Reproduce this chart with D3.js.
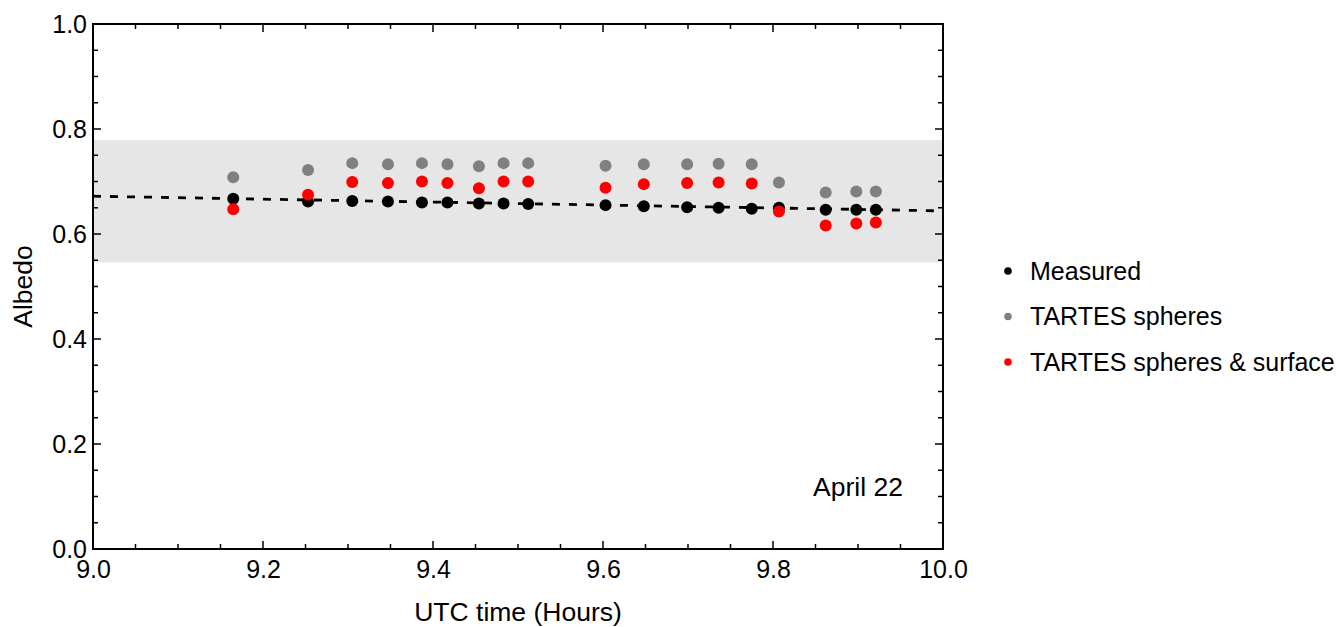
<!DOCTYPE html>
<html>
<head>
<meta charset="utf-8">
<script src="https://cdn.jsdelivr.net/npm/d3@7"></script>
<style>
  body { margin: 0; background: #fff; }
  svg text { font-family: "Liberation Sans", Arial, sans-serif; fill: #000; }
</style>
</head>
<body>
<svg width="1336" height="627"></svg>
<script>
// UTC time (hours) of each measurement
const times = [9.165, 9.253, 9.305, 9.347, 9.387, 9.417, 9.454, 9.483, 9.512,
  9.603, 9.648, 9.699, 9.736, 9.775, 9.807, 9.862, 9.898, 9.921];
const measured = [0.667, 0.662, 0.663, 0.662, 0.660, 0.660, 0.658, 0.658, 0.657,
  0.655, 0.653, 0.651, 0.650, 0.648, 0.650, 0.646, 0.646, 0.646];
const spheres = [0.708, 0.722, 0.735, 0.733, 0.735, 0.733, 0.729, 0.735, 0.735,
  0.730, 0.733, 0.733, 0.734, 0.733, 0.698, 0.679, 0.681, 0.681];
const spheresSurface = [0.647, 0.675, 0.699, 0.697, 0.700, 0.697, 0.687, 0.700, 0.700,
  0.688, 0.695, 0.697, 0.698, 0.696, 0.643, 0.616, 0.620, 0.622];
// fitted trend at the two ends of the axis
const trend = [[9.0, 0.672], [10.0, 0.644]];
// grey uncertainty band
const band = [0.546, 0.779];
const xTicks = [9.0, 9.2, 9.4, 9.6, 9.8, 10.0];
const yTicks = [0.0, 0.2, 0.4, 0.6, 0.8, 1.0];
const seriesNames = ["Measured", "TARTES spheres", "TARTES spheres & surface"];
const seriesColors = ["#000000", "#808080", "#ff0000"];

const margin = { top: 24, right: 393, bottom: 78, left: 93 };
const width = 1336, height = 627;
const svg = d3.select("svg");

const x = d3.scaleLinear().domain([9, 10]).range([margin.left, width - margin.right]);
const y = d3.scaleLinear().domain([0, 1]).range([height - margin.bottom, margin.top]);

// band
svg.append("rect")
  .attr("x", x(9)).attr("width", x(10) - x(9))
  .attr("y", y(band[1])).attr("height", y(band[0]) - y(band[1]))
  .attr("fill", "#e6e6e6");

// ticks on all four sides, pointing inward
const minorX = d3.range(9, 10.0001, 0.05);
const minorY = d3.range(0, 1.0001, 0.05);
const isMajor = v => Math.abs(v * 5 - Math.round(v * 5)) < 1e-6;

const axisB = d3.axisBottom(x).tickValues(xTicks)
  .tickSize(0).tickFormat(d3.format(".1f"));
const gx = svg.append("g").attr("transform", `translate(0,${y(0)})`).call(axisB);
gx.select(".domain").remove();
gx.selectAll("text").attr("font-size", 25).attr("dy", "0.95em").attr("y", 5);

const axisL = d3.axisLeft(y).tickValues(yTicks)
  .tickSize(0).tickFormat(d3.format(".1f"));
const gy = svg.append("g").attr("transform", `translate(${x(9)},0)`).call(axisL);
gy.select(".domain").remove();
gy.selectAll("text").attr("font-size", 25).attr("x", -6).attr("dy", "0.33em");

const tickG = svg.append("g").attr("stroke", "#000").attr("stroke-width", 1.5);
minorX.forEach(v => {
  const len = isMajor(v) ? 8 : 5;
  tickG.append("line").attr("x1", x(v)).attr("x2", x(v)).attr("y1", y(0)).attr("y2", y(0) - len);
  tickG.append("line").attr("x1", x(v)).attr("x2", x(v)).attr("y1", y(1)).attr("y2", y(1) + len);
});
minorY.forEach(v => {
  const len = isMajor(v) ? 8 : 5;
  tickG.append("line").attr("x1", x(9)).attr("x2", x(9) + len).attr("y1", y(v)).attr("y2", y(v));
  tickG.append("line").attr("x1", x(10)).attr("x2", x(10) - len).attr("y1", y(v)).attr("y2", y(v));
});

// trend line
svg.append("path")
  .datum(trend)
  .attr("fill", "none")
  .attr("stroke", "#000")
  .attr("stroke-width", 2.8)
  .attr("stroke-dasharray", "8,9")
  .attr("d", d3.line().x(d => x(d[0])).y(d => y(d[1])));

// points
[measured, spheres, spheresSurface].forEach((vals, i) => {
  svg.append("g").selectAll("circle")
    .data(vals)
    .enter()
    .append("circle")
    .attr("cx", (d, j) => x(times[j]))
    .attr("cy", d => y(d))
    .attr("r", 6)
    .attr("fill", seriesColors[i]);
});

// frame
svg.append("rect")
  .attr("x", x(9)).attr("y", y(1))
  .attr("width", x(10) - x(9)).attr("height", y(0) - y(1))
  .attr("fill", "none").attr("stroke", "#000").attr("stroke-width", 2);

// labels
svg.append("text")
  .attr("x", (x(9) + x(10)) / 2).attr("y", 621)
  .attr("text-anchor", "middle").attr("font-size", 26.5)
  .text("UTC time (Hours)");

svg.append("text")
  .attr("transform", `translate(32,${(y(0) + y(1)) / 2}) rotate(-90)`)
  .attr("text-anchor", "middle").attr("font-size", 26.5)
  .text("Albedo");

svg.append("text")
  .attr("x", x(9.9)).attr("y", y(0.118))
  .attr("text-anchor", "middle").attr("dy", "0.35em").attr("font-size", 26.5)
  .text("April 22");

// legend
const legend = svg.append("g").attr("transform", "translate(1008,271)");
seriesNames.forEach((name, i) => {
  const row = legend.append("g").attr("transform", `translate(0,${i * 45.5})`);
  row.append("circle").attr("r", 3.8).attr("fill", seriesColors[i]);
  row.append("text").attr("x", 22).attr("dy", "0.35em").attr("font-size", 25).text(name);
});
</script>
</body>
</html>
